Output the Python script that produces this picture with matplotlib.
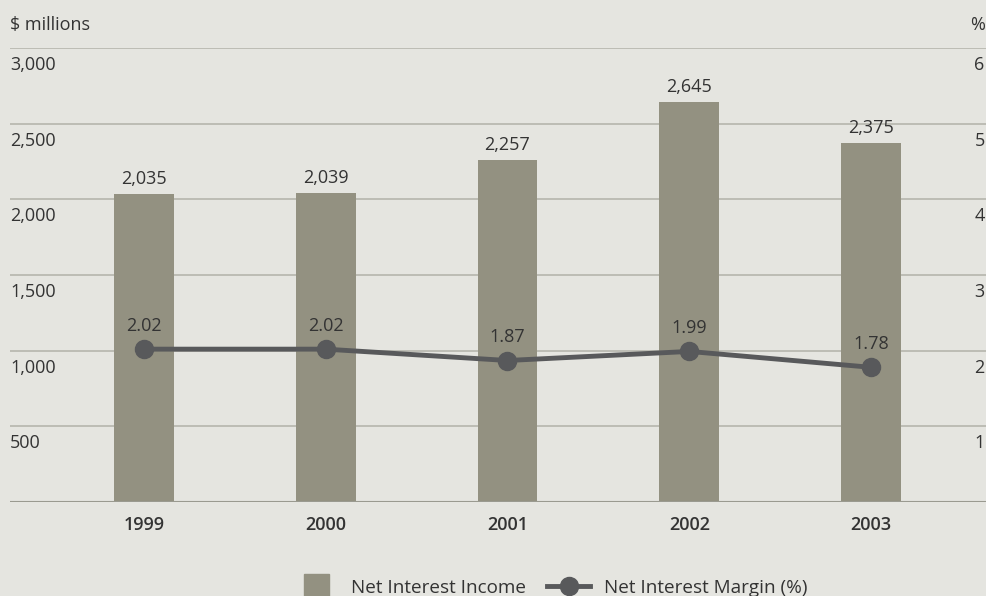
import matplotlib.pyplot as plt
from matplotlib.lines import Line2D

plt.rcParams['font.family'] = ['Open Sans', 'DejaVu Sans']

years = ['1999', '2000', '2001', '2002', '2003']
income = [2035, 2039, 2257, 2645, 2375]
margin = [2.02, 2.02, 1.87, 1.99, 1.78]
left_ticks = [500, 1000, 1500, 2000, 2500, 3000]
right_ticks = [1, 2, 3, 4, 5, 6]

bg = '#e5e5e0'
bar_c = '#939181'
line_c = '#58595b'
grid_c = '#b5b5ad'
text_c = '#333333'

fig = plt.figure(figsize=(9.87, 5.96), dpi=100, facecolor=bg)
ax = fig.add_axes([10/987, 1 - 502/596, 977/987, 454/596])
ax.set_facecolor(bg)
x = range(len(years))

ax.bar(x, income, width=0.33, color=bar_c, zorder=2)
for i, v in enumerate(income):
    ax.text(i, v + 40, f'{v:,}', ha='center', va='bottom', fontsize=13, color=text_c)

ax.set_ylim(0, 3000)
ax.set_xlim(-0.737, 4.638)
for t in left_ticks:
    ax.axhline(t, color=grid_c, lw=1.2, zorder=1)
    ax.text(-0.737, t - 112, f'{t:,}', ha='left', va='center', fontsize=13, color=text_c)
ax.axhline(0, color='#9a9a90', lw=1.5, zorder=3)

ax2 = ax.twinx()
ax2.set_ylim(0, 6)
ax2.plot(x, margin, color=line_c, lw=3.5, marker='o', ms=13, zorder=4)
for i, v in enumerate(margin):
    ax2.text(i, v + 0.19, f'{v:.2f}', ha='center', va='bottom', fontsize=13, color=text_c)
for t in right_ticks:
    ax2.text(4.625, t - 0.225, str(t), ha='right', va='center', fontsize=13, color=text_c)

for a in (ax, ax2):
    a.set_yticks([])
    for s in a.spines.values():
        s.set_visible(False)
ax.set_xticks(list(x))
ax.set_xticklabels(years, fontsize=13, color=text_c, fontweight='semibold')
ax.tick_params(axis='x', length=0, pad=10)

fig.text(10/987, 1 - 25/596, '$ millions', ha='left', va='center', fontsize=13, color=text_c)
fig.text(985/987, 1 - 25/596, '%', ha='right', va='center', fontsize=13, color=text_c)

handles = [Line2D([], [], ls='none', marker='s', ms=18, color=bar_c),
           Line2D([], [], color=line_c, lw=3.5, marker='o', ms=13)]
fig.legend(handles, ['Net Interest Income', 'Net Interest Margin (%)'], loc='lower center',
           bbox_to_anchor=(0.558, -0.03), ncol=2, frameon=False, fontsize=13.6,
           labelcolor=text_c, handlelength=2.3, handletextpad=0.7,
           columnspacing=1.1)

fig.savefig('out.png', dpi=100, facecolor=bg)
